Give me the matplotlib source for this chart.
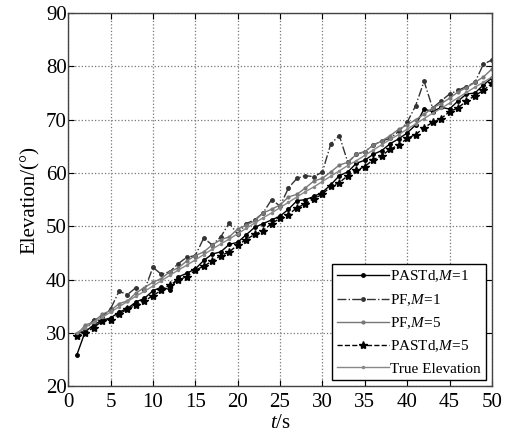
import matplotlib
matplotlib.use("Agg")
import matplotlib.pyplot as plt

plt.rcParams['font.family'] = ['Liberation Serif', 'DejaVu Serif']
plt.rcParams['mathtext.fontset'] = 'custom'
plt.rcParams['mathtext.rm'] = 'Liberation Serif'
plt.rcParams['mathtext.it'] = 'Liberation Serif:italic'

# Temps (s)
t = list(range(1, 51))

pastd_m1 = [25.8, 30.2, 31.5, 32.4, 32.8, 33.9, 34.6, 35.8, 36.5, 37.9,
            38.6, 38.1, 40.5, 41.2, 42.0, 43.6, 44.8, 45.2, 46.6, 47.0,
            48.4, 49.8, 50.5, 51.2, 51.9, 53.2, 54.8, 55.0, 55.6, 56.4,
            57.8, 59.5, 60.2, 61.8, 62.4, 63.5, 64.2, 65.5, 66.4, 67.5,
            69.0, 72.0, 71.5, 72.3, 72.0, 73.5, 74.8, 75.0, 76.5, 77.8]
pf_m1 = [29.8, 30.5, 32.5, 33.0, 34.5, 37.8, 37.2, 38.5, 38.0, 42.3,
         41.0, 41.5, 43.0, 44.2, 44.5, 47.8, 46.5, 48.0, 50.6, 48.5,
         50.5, 51.2, 52.5, 55.0, 53.8, 57.2, 59.0, 59.5, 59.3, 60.2,
         65.5, 67.0, 62.0, 63.5, 64.0, 65.2, 66.0, 66.5, 67.8, 69.5,
         72.6, 77.2, 72.2, 73.5, 74.8, 75.5, 76.2, 77.0, 80.4, 81.2]
pf_m5 = [29.5, 31.5, 32.0, 33.5, 34.2, 35.5, 36.0, 37.5, 38.5, 39.5,
         40.2, 41.5, 42.2, 43.5, 44.5, 45.2, 46.5, 47.5, 48.0, 49.5,
         50.2, 51.0, 52.5, 53.2, 54.0, 55.5, 56.0, 57.2, 58.5, 59.0,
         60.2, 61.5, 62.0, 63.5, 64.0, 65.2, 66.0, 67.0, 68.2, 69.0,
         70.0, 71.0, 72.2, 73.0, 74.0, 75.2, 76.0, 77.0, 78.0, 79.5]
pastd_m5 = [29.5, 30.0, 31.0, 32.2, 32.5, 33.5, 34.5, 35.2, 36.0, 37.0,
            38.0, 39.0, 40.0, 40.5, 41.8, 42.5, 43.5, 44.5, 45.2, 46.5,
            47.5, 48.5, 49.2, 50.5, 51.5, 52.2, 53.5, 54.2, 55.2, 56.0,
            57.5, 58.2, 59.5, 60.5, 61.2, 62.5, 63.2, 64.5, 65.2, 66.5,
            67.2, 68.5, 69.5, 70.2, 71.5, 72.2, 73.5, 74.5, 75.5, 76.8]
true_elev = [30.0, 31.0, 32.0, 32.9, 33.9, 34.9, 35.9, 36.9, 37.8, 38.8,
             39.8, 40.8, 41.8, 42.7, 43.7, 44.7, 45.7, 46.7, 47.6, 48.6,
             49.6, 50.6, 51.6, 52.5, 53.5, 54.5, 55.5, 56.5, 57.4, 58.4,
             59.4, 60.4, 61.4, 62.3, 63.3, 64.3, 65.3, 66.3, 67.2, 68.2,
             69.2, 70.2, 71.2, 72.1, 73.1, 74.1, 75.1, 76.1, 77.0, 78.0]

fig = plt.figure(figsize=(5.05, 4.34), dpi=100)
ax = fig.add_axes([0.135, 0.11, 0.839, 0.86])

ax.plot(t, pastd_m1, '-', color='black', marker='.', markersize=5, linewidth=1.0,
        label='PASTd,$M$=1')
ax.plot(t, pf_m1, '-.', color='#333333', marker='.', markersize=5, linewidth=1.0,
        label='PF,$M$=1')
ax.plot(t, pf_m5, '-', color='#777777', marker='.', markersize=4, linewidth=1.0,
        label='PF,$M$=5')
ax.plot(t, pastd_m5, '--', color='black', marker='*', markersize=6, linewidth=1.0,
        label='PASTd,$M$=5')
ax.plot(t, true_elev, '-', color='#888888', marker='.', markersize=3, linewidth=1.0,
        label='True Elevation')

ax.set_xlim(0, 50)
ax.set_ylim(20, 90)
ax.set_xticks(range(0, 51, 5))
ax.set_yticks(range(20, 91, 10))
ax.tick_params(direction='in', labelsize=15, length=4, top=True, right=True)
ax.tick_params(axis='x', pad=5)
ax.tick_params(axis='y', pad=1)
ax.grid(True, linestyle=':', color='#777777', linewidth=0.9)
for s in ax.spines.values():
    s.set_color('#444444')
    s.set_linewidth(1.0)

ax.set_xlabel('$t$/s', fontsize=15, labelpad=1)
ax.set_ylabel('Elevation/(°)', fontsize=15, labelpad=4)

leg = ax.legend(loc='lower right', fontsize=11, numpoints=1, handlelength=3.4,
                handletextpad=0.1, labelspacing=0.5, borderpad=0.3,
                fancybox=False, framealpha=1, edgecolor='black',
                borderaxespad=0.4)
leg.get_frame().set_linewidth(1.0)

fig.savefig('out.png', dpi=100)
